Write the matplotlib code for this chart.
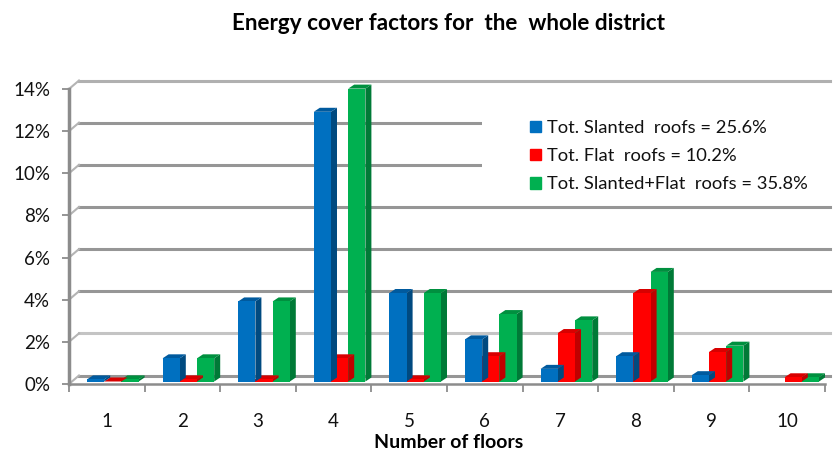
import matplotlib
matplotlib.use('Agg')
import matplotlib.pyplot as plt
from matplotlib.patches import Polygon, Patch, Rectangle

plt.rcParams['font.family'] = ['Lato', 'DejaVu Sans']

floors = ['1', '2', '3', '4', '5', '6', '7', '8', '9', '10']
slanted = [0.1, 1.1, 3.8, 12.8, 4.2, 2.0, 0.6, 1.2, 0.3, 0.0]
flat = [0.0, 0.1, 0.1, 1.1, 0.1, 1.2, 2.3, 4.2, 1.4, 0.2]
both = [0.1, 1.1, 3.8, 13.9, 4.2, 3.2, 2.9, 5.2, 1.7, 0.2]
y_ticks = [0, 2, 4, 6, 8, 10, 12, 14]
legend_labels = ['Tot. Slanted  roofs = 25.6%', 'Tot. Flat  roofs = 10.2%', 'Tot. Slanted+Flat  roofs = 35.8%']

W, H = 834, 450
fig = plt.figure(figsize=(W / 100, H / 100), dpi=100)
ax = fig.add_axes([69 / W, 1 - 384 / H, 756 / W, 295 / H])
ax.set_xlim(0, 10)
ax.set_ylim(0, 14)

# pixel sizes turned into data units, for the fake 3d look
px = 10 / 756
py = 14 / 295

# back wall gridlines with slanted bit back to the axis
for v in y_ticks:
    col = '#c4c4c4' if v == 2 else '#b0b0b0' if v == 14 else '#969696'
    ax.plot([10 * px, 10 + 5 * px], [v + 8.5 * py, v + 8.5 * py], color=col, lw=2.2, clip_on=False, zorder=1)
    ax.plot([0, 10 * px], [v, v + 8.5 * py], color='#b4b4b4', lw=1.5, clip_on=False, zorder=1)

# white box behind the legend hides the gridlines there
ax.add_patch(Rectangle((413 * px, 9.3), 360 * px, 4.05, color='white', lw=0, clip_on=False, zorder=2))


def bar3d(x, w, v, front, side, top):
    if v == 0 and front == '#0070c0':
        return
    base = 2.5 * py
    d_x, d_y = 6 * px, 4 * py
    ax.add_patch(Polygon([(x + w, base), (x + w + d_x, base + d_y), (x + w + d_x, base + v + d_y), (x + w, base + v)],
                         color=side, lw=0, clip_on=False, zorder=3))
    ax.add_patch(Polygon([(x, base + v), (x + d_x, base + v + d_y), (x + w + d_x, base + v + d_y), (x + w, base + v)],
                         color=top, lw=0, clip_on=False, zorder=3))
    ax.add_patch(Polygon([(x, base), (x + w, base), (x + w, base + v), (x, base + v)],
                         color=front, lw=0, clip_on=False, zorder=3))


w = 17.2 * px
for i in range(len(floors)):
    x0 = i + 18 * px
    # green first so the blue and red side faces stay hidden behind the next bar
    bar3d(x0 + 2 * w, w, both[i], '#00b050', '#007a37', '#00903f')
    bar3d(x0 + w, w, flat[i], '#ff0000', '#c00000', '#d80000')
    bar3d(x0, w, slanted[i], '#0070c0', '#004a80', '#005a9e')

for s in ['top', 'right']:
    ax.spines[s].set_visible(False)
ax.spines['left'].set_color('#8c8c8c')
ax.spines['left'].set_linewidth(2.5)
ax.spines['bottom'].set_color('#8c8c8c')
ax.spines['bottom'].set_linewidth(1.8)

ax.set_yticks(y_ticks)
ax.set_yticklabels([str(v) + '%' for v in y_ticks], fontsize=13.5, color='#111111')
ax.set_xticks(range(11))
ax.set_xticklabels([])
ax.set_xticks([i + 0.5 for i in range(10)], minor=True)
ax.set_xticklabels(floors, minor=True, fontsize=13.5, color='#111111')
ax.tick_params(axis='x', which='major', direction='out', length=6, width=1.3, color='#8c8c8c')
ax.tick_params(axis='x', which='minor', length=0, pad=21)
ax.tick_params(axis='y', direction='out', length=5, width=1.3, color='#8c8c8c', pad=8.5)
ax.set_facecolor('none')

fig.text(449 / W, 1 - 442 / H, 'Number of floors', fontsize=14, fontweight='bold', ha='center', va='center')
fig.text(448 / W, 1 - 24 / H, 'Energy cover factors for  the  whole district', fontsize=16.2, fontweight='bold',
         ha='center', va='center')

handles = [Patch(color='#0070c0'), Patch(color='#ff0000'), Patch(color='#00b050')]
leg = fig.legend(handles, legend_labels, loc='upper left', bbox_to_anchor=(530 / W, 1 - 120 / H), frameon=False,
                 fontsize=13.2, handlelength=0.6, handleheight=0.6, handletextpad=0.35, labelspacing=0.66,
                 borderaxespad=0, borderpad=0, labelcolor='#111111')
leg.set_zorder(5)
ax.set_zorder(1)

fig.savefig('out.png', dpi=100)
